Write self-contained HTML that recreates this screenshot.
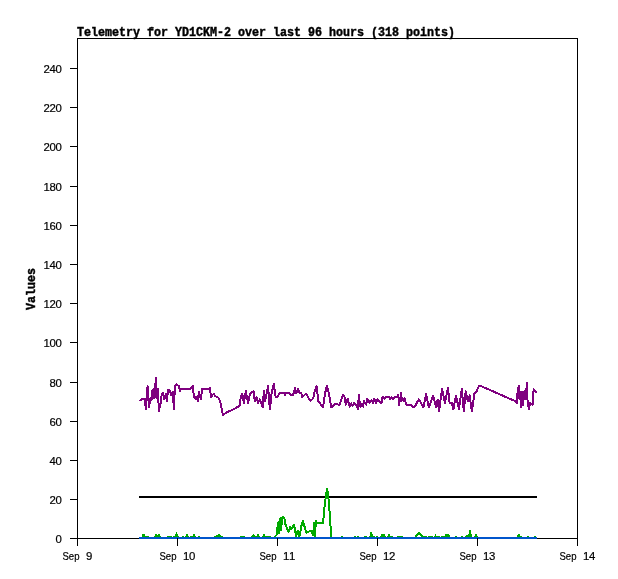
<!DOCTYPE html>
<html><head><meta charset="utf-8"><title>Telemetry for YD1CKM-2</title>
<style>
html,body{margin:0;padding:0;background:#fff;}
svg{display:block;}
.t{font-family:"Liberation Mono",monospace;font-weight:bold;fill:#000;stroke:#000;stroke-width:0.45px;}
.s{font-family:"Liberation Sans",sans-serif;font-size:11.4px;fill:#000;stroke:#000;stroke-width:0.2px;}
</style></head><body>
<svg width="618" height="579" viewBox="0 0 618 579">
<rect x="0" y="0" width="618" height="579" fill="#ffffff"/>
<g shape-rendering="crispEdges" fill="none">
<polyline points="140,401 141.8,398.6 144.7,399 145.9,409.3 147.6,386.2 149,407.4 150.5,397.7 151.5,400 152.5,389.7 153,398 153.8,388.7 154.5,398 155.2,388 155.9,377.8 156.5,388 157,398 157.7,388.7 158.3,398 158.9,411 160.6,403 161.8,393.5 163.2,393 164.2,399 166,393.9 166.8,401.2 168.2,389.7 170,391 171.1,395 172.9,391.7 173.9,409.5 174.9,385.8 176.5,384.2 178.7,386 180,391.3 181.1,389 189.5,389 191.2,388 192.9,386 193.9,396.7 195.3,398.8 196.3,396.9 197.8,401 198.9,391.6 199.7,395.2 200.9,399.1 202.1,389 209,389 210,388 210.9,397.2 213.8,393.5 214.8,395.7 218.2,397.7 220.1,401 223,415.1 225.9,412.7 232.7,409.8 239.5,405.9 241,396.2 242.2,393.5 243.9,403 245.8,391.1 248,403 250.2,393.3 253.6,391.1 254.8,401 256.5,397.4 258,403 259.9,399.3 262.8,407.4 263.8,391.1 265.2,401 268,386.2 269.9,409.3 271.6,393.3 273.8,384 275.7,397.2 277.4,396.7 279.8,392.8 284.2,392.8 284.9,395.2 286.1,392.8 289,392.8 290.5,395 293.2,394.8 294.9,388.2 296.3,393.5 298,389.1 299.6,393.3 301.2,393.3 302.4,397.2 306,393.5 310.4,401 313.3,398.2 314.8,390.4 316.7,386.2 318.2,401 323,407.4 325,393.3 326.9,386.2 328.8,393.3 331.3,407.4 335.6,403.7 339.5,405 343,395.1 344.5,397 345.8,404.7 347.7,398.9 349.7,406.8 351.3,403.3 352.6,406 353.9,403 355.5,405 357,406 358,408.9 358.8,395 359.6,402 360.5,406.6 361.8,404.2 363.2,406.6 363.9,400.8 366.2,404.7 367.4,398.9 369.7,402.7 371.3,400.5 373.3,403 374.2,398.9 376.2,403 377.5,398.8 379.5,402 381.5,403 382.5,397 383.5,397 384.5,398.7 385.5,397 389.4,397 390,398.7 391.3,397.3 392.3,398.7 393.5,398.7 394.6,397 397.2,397 397.8,395 398.4,396 399,404.7 399.8,397.7 400.5,400.5 401,393 401.6,400.8 402.3,397.7 403.5,400.5 404.6,397.9 405.2,400 406,404.5 407,405 410.9,405 413.8,407.4 415.7,405 418.9,399.3 423.5,407.4 426.1,393.5 428.8,407.4 433.2,395.5 436.1,407.4 437.6,399.8 439,411.3 442,389.1 445,403 447.9,388.2 449.6,403 451.7,403 453.4,409.3 456,395.5 458.9,408.8 461.8,389.1 463.8,411.3 465.7,391.1 467.7,401 469.6,395.5 471.8,411.3 474.5,393.3 476.9,390.9 478.8,386 480.8,386 516.2,401.6 517,403.5 517.6,391 518.9,386.2 519.5,399 520,391.7 521.1,407.4 521.6,392 522.2,392.5 523,405.5 523.6,391.7 524.4,399 525,391.2 525.8,399 526.4,390 526.9,382.4 527.4,399 528.8,409.5 530,403 532.7,404.5 533.6,389.1 536.4,392.8" stroke="#7f007f" stroke-width="2" stroke-linejoin="round"/>
<line x1="139" y1="497" x2="537" y2="497" stroke="#000" stroke-width="2"/>
<polyline points="274,538 274.4,537 276.8,534.8 277.6,526.4 278.4,522.5 279.2,533 279.8,522 280.4,518.5 281.2,530 282,518 283,516.8 284.6,519 285.6,525 288.5,532 290,527.3 291.2,529.5 293.9,524.9 295.2,530 296,536.5 297.5,531.2 298.6,531.2 299.3,536.5 300.5,531 301.2,526.5 302.9,521 306.3,532.8 310.8,530.6 313,535 314.2,522.7 314.7,536 316,521 317.5,523.3 323.1,522.7 324.3,509.2 326,495.5 327.1,488.4 328.2,495.5 329.3,507 329.9,519.3 331,531.7 331.6,538" stroke="#00aa00" stroke-width="2" stroke-linejoin="round"/>
<polyline points="415,538 415.5,537 419,533 423,537 423.5,538" stroke="#00aa00" stroke-width="2" stroke-linejoin="round"/>
<path d="M142 534H145V537H142ZM142 536H149V537H142ZM143 534H145V537H143ZM154 536H161V537H154ZM155 535H160V537H155ZM155 534H157V537H155ZM158 534H160V537H158ZM167 536H172V537H167ZM173 536H179V537H173ZM175 534H178V537H175ZM176 532H177V537H176ZM182 536H184V537H182ZM185 536H189V537H185ZM186 534H188V537H186ZM190 536H196V537H190ZM193 534H195V537H193ZM198 536H200V537H198ZM214 536H223V537H214ZM216 535H221V537H216ZM218 534H220V537H218ZM240 536H245V537H240ZM251 536H260V537H251ZM252 535H255V537H252ZM253 534H254V537H253ZM257 534H259V537H257ZM262 536H271V537H262ZM263 534H265V537H263ZM341 536H343V537H341ZM354 536H356V537H354ZM357 536H359V537H357ZM364 536H367V537H364ZM369 536H375V537H369ZM370 534H373V537H370ZM370 532H372V537H370ZM376 536H378V537H376ZM380 536H386V537H380ZM381 534H385V537H381ZM387 536H393V537H387ZM388 534H390V537H388ZM390 536H393V537H390ZM397 536H403V537H397ZM424 536H427V537H424ZM428 536H433V537H428ZM434 536H440V537H434ZM435 534H436V537H435ZM441 536H450V537H441ZM445 534H449V537H445ZM449 535H450V537H449ZM455 536H457V537H455ZM461 536H463V537H461ZM465 536H472V537H465ZM466 535H472V537H466ZM468 534H472V537H468ZM469 530H471V537H469ZM474 536H478V537H474ZM475 534H477V537H475ZM517 536H522V537H517ZM517 535H520V537H517ZM518 534H520V537H518ZM527 536H529V537H527ZM534 536H536V537H534Z" fill="#00aa00" stroke="none"/>
<rect x="77.5" y="38.5" width="500" height="500" stroke="#000" stroke-width="1"/>
<line x1="139" y1="538" x2="537" y2="538" stroke="#0055cc" stroke-width="2"/>
<path d="M70 538.5H77M70 499.5H77M70 460.5H77M70 421.5H77M70 382.5H77M70 342.5H77M70 303.5H77M70 264.5H77M70 225.5H77M70 186.5H77M70 146.5H77M70 107.5H77M70 68.5H77M77.5 538V546M177.5 538V546M277.5 538V546M377.5 538V546M477.5 538V546M577.5 538V546" stroke="#000" stroke-width="1"/>
</g>
<text class="t" x="77" y="36" font-size="13.4" textLength="378" lengthAdjust="spacingAndGlyphs">Telemetry for YD1CKM-2 over last 96 hours (318 points)</text>
<text class="t" font-size="12.4" textLength="42" lengthAdjust="spacingAndGlyphs" transform="translate(34.8,310) rotate(-90)">Values</text>
<text class="s" x="55.4" y="543">0</text>
<text class="s" x="49.4 55.4" y="504">20</text>
<text class="s" x="49.4 55.4" y="465">40</text>
<text class="s" x="49.4 55.4" y="426">60</text>
<text class="s" x="49.4 55.4" y="387">80</text>
<text class="s" x="43.4 49.4 55.4" y="347">100</text>
<text class="s" x="43.4 49.4 55.4" y="308">120</text>
<text class="s" x="43.4 49.4 55.4" y="269">140</text>
<text class="s" x="43.4 49.4 55.4" y="230">160</text>
<text class="s" x="43.4 49.4 55.4" y="191">180</text>
<text class="s" x="43.4 49.4 55.4" y="151">200</text>
<text class="s" x="43.4 49.4 55.4" y="112">220</text>
<text class="s" x="43.4 49.4 55.4" y="73">240</text>
<text class="s" y="560"><tspan x="62.5" textLength="17" lengthAdjust="spacingAndGlyphs">Sep</tspan><tspan x="80"> </tspan><tspan x="86">9</tspan></text>
<text class="s" y="560"><tspan x="159.5" textLength="17" lengthAdjust="spacingAndGlyphs">Sep</tspan><tspan x="177"> </tspan><tspan x="183 189">10</tspan></text>
<text class="s" y="560"><tspan x="259.5" textLength="17" lengthAdjust="spacingAndGlyphs">Sep</tspan><tspan x="277"> </tspan><tspan x="283 289">11</tspan></text>
<text class="s" y="560"><tspan x="359.5" textLength="17" lengthAdjust="spacingAndGlyphs">Sep</tspan><tspan x="377"> </tspan><tspan x="383 389">12</tspan></text>
<text class="s" y="560"><tspan x="459.5" textLength="17" lengthAdjust="spacingAndGlyphs">Sep</tspan><tspan x="477"> </tspan><tspan x="483 489">13</tspan></text>
<text class="s" y="560"><tspan x="559.5" textLength="17" lengthAdjust="spacingAndGlyphs">Sep</tspan><tspan x="577"> </tspan><tspan x="583 589">14</tspan></text>
</svg>
</body></html>
